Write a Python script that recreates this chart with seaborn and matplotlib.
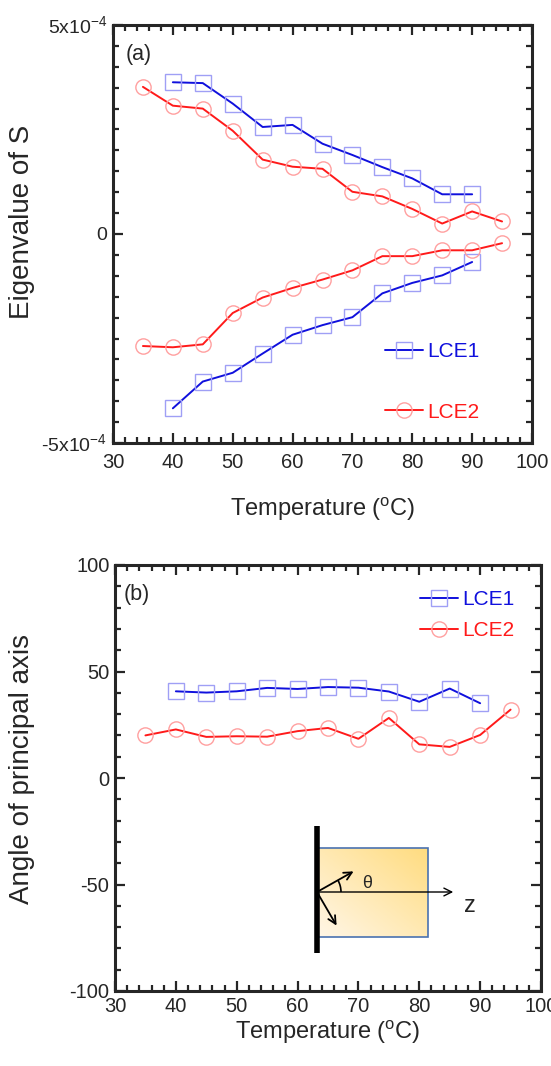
import numpy as np
import pandas as pd
import matplotlib
matplotlib.use("Agg")
import matplotlib.pyplot as plt
from matplotlib.ticker import MultipleLocator, FixedLocator, FixedFormatter
from matplotlib.lines import Line2D
from matplotlib.patches import Rectangle, Arc
import seaborn as sns

# temperatures (deg C)
temp_lce1 = [40, 45, 50, 55, 60, 65, 70, 75, 80, 85, 90]
temp_lce2 = [35, 40, 45, 50, 55, 60, 65, 70, 75, 80, 85, 90, 95]

# (a) eigenvalues of S, two branches per sample
eig_lce1_pos = [3.63e-4, 3.61e-4, 3.12e-4, 2.56e-4, 2.61e-4, 2.16e-4, 1.89e-4, 1.60e-4, 1.33e-4, 0.95e-4, 0.95e-4]
eig_lce1_neg = [-4.17e-4, -3.53e-4, -3.32e-4, -2.86e-4, -2.41e-4, -2.18e-4, -1.99e-4, -1.42e-4, -1.17e-4, -0.99e-4, -0.67e-4]
eig_lce2_pos = [3.52e-4, 3.07e-4, 3.00e-4, 2.47e-4, 1.78e-4, 1.61e-4, 1.56e-4, 1.01e-4, 0.90e-4, 0.60e-4, 0.25e-4, 0.54e-4, 0.30e-4]
eig_lce2_neg = [-2.68e-4, -2.71e-4, -2.64e-4, -1.89e-4, -1.52e-4, -1.29e-4, -1.09e-4, -0.87e-4, -0.53e-4, -0.53e-4, -0.39e-4, -0.39e-4, -0.22e-4]

# (b) angle of principal axis (deg)
angle_lce1 = [40.7, 40.1, 40.7, 42.3, 41.8, 42.7, 42.4, 40.6, 35.8, 42.0, 35.1]
angle_lce2 = [20.0, 22.8, 19.3, 19.6, 19.4, 22.0, 23.5, 18.4, 28.2, 15.8, 14.6, 20.2, 32.1]

series_names = ["LCE1", "LCE2"]
line_colors = {"LCE1": "#1010dd", "LCE2": "#ff1a1a"}
edge_colors = {"LCE1": "#9f9ff5", "LCE2": "#ff9f9f"}
markers = {"LCE1": "s", "LCE2": "o"}

W, H = 551, 1066
sns.set_style("ticks")
plt.rcParams["font.family"] = ["Liberation Sans", "DejaVu Sans"]
plt.rcParams["mathtext.fontset"] = "custom"
plt.rcParams["mathtext.rm"] = "Liberation Sans"
plt.rcParams["axes.unicode_minus"] = False

fig = plt.figure(figsize=(W / 100, H / 100), dpi=100)


def px_axes(left, top, right, bottom):
    return fig.add_axes([left / W, 1 - bottom / H, (right - left) / W, (bottom - top) / H])


ax_a = px_axes(113, 25, 532, 443)
ax_b = px_axes(115, 565, 541, 991)


def draw(ax, x, y, name):
    sns.lineplot(x=x, y=y, ax=ax, color=line_colors[name], linewidth=1.4,
                 marker=markers[name], markersize=11, markerfacecolor="none",
                 markeredgecolor=edge_colors[name], markeredgewidth=1.0)


draw(ax_a, temp_lce1, eig_lce1_pos, "LCE1")
draw(ax_a, temp_lce1, eig_lce1_neg, "LCE1")
draw(ax_a, temp_lce2, eig_lce2_pos, "LCE2")
draw(ax_a, temp_lce2, eig_lce2_neg, "LCE2")
draw(ax_b, temp_lce1, angle_lce1, "LCE1")
draw(ax_b, temp_lce2, angle_lce2, "LCE2")


def style_axes(ax, xlabel_pad):
    ax.set_xlim(30, 100)
    ax.xaxis.set_major_locator(MultipleLocator(10))
    ax.xaxis.set_minor_locator(MultipleLocator(2))
    ax.tick_params(which="both", direction="in", top=True, right=True, width=1.6, labelsize=14.5)
    ax.tick_params(which="major", length=7, pad=4)
    ax.tick_params(which="minor", length=4)
    for sp in ax.spines.values():
        sp.set_linewidth(2.2)
        sp.set_visible(True)
    ax.set_xlabel("Temperature ($^{\\mathregular{o}}$C)", fontsize=17, labelpad=xlabel_pad)


style_axes(ax_a, 17)
ax_a.tick_params(axis="x", which="major", pad=7)
ax_a.set_ylim(-5e-4, 5e-4)
ax_a.yaxis.set_major_locator(FixedLocator([-5e-4, 0, 5e-4]))
ax_a.yaxis.set_major_formatter(FixedFormatter(["-5x10$^{\\mathregular{-4}}$", "0", "5x10$^{\\mathregular{-4}}$"]))
ax_a.yaxis.set_minor_locator(MultipleLocator(0.5e-4))
ax_a.tick_params(axis="y", labelsize=14)
ax_a.set_ylabel("Eigenvalue of S", fontsize=20)
ax_a.yaxis.set_label_coords((35 - 113) / 419, 0.53)
ax_a.text(0.03, 0.955, "(a)", transform=ax_a.transAxes, fontsize=15.5, va="top", ha="left")

style_axes(ax_b, 2)
ax_b.set_ylim(-100, 100)
ax_b.yaxis.set_major_locator(MultipleLocator(50))
ax_b.yaxis.set_minor_locator(MultipleLocator(10))
ax_b.set_ylabel("Angle of principal axis", fontsize=20)
ax_b.yaxis.set_label_coords((35 - 115) / 426, 0.52)
ax_b.text(0.02, 0.955, "(b)", transform=ax_b.transAxes, fontsize=15.5, va="top", ha="left")


def legend_handles():
    return [Line2D([], [], color=line_colors[n], linewidth=1.4, marker=markers[n], markersize=11,
                   markerfacecolor="none", markeredgecolor=edge_colors[n], markeredgewidth=1.0)
            for n in series_names]


leg_a = ax_a.legend(legend_handles(), series_names, loc="upper left",
                    bbox_to_anchor=((385 - 113) / 419, (443 - 342) / 418), frameon=False,
                    fontsize=15, handlelength=1.8, handletextpad=0.25, labelspacing=2.0,
                    borderpad=0, borderaxespad=0)
leg_b = ax_b.legend(legend_handles(), series_names, loc="upper left",
                    bbox_to_anchor=((420 - 115) / 426, (991 - 590) / 426), frameon=False,
                    fontsize=15, handlelength=1.8, handletextpad=0.25, labelspacing=0.6,
                    borderpad=0, borderaxespad=0)
for leg in (leg_a, leg_b):
    for txt, n in zip(leg.get_texts(), series_names):
        txt.set_color(line_colors[n])

# inset schematic, drawn in figure pixel units
ins = px_axes(300, 815, 490, 965)
ins.set_xlim(300, 490)
ins.set_ylim(965, 815)
ins.axis("off")
grad = np.linspace(0, 1, 64)
gx, gy = np.meshgrid(grad, grad)
shade = (gx + (1 - gy)) / 2
cmap = matplotlib.colors.LinearSegmentedColormap.from_list("box", ["#fff6e6", "#ffdc80"])
ins.imshow(shade, extent=(318, 428, 937, 848), cmap=cmap, aspect="auto", zorder=1)
ins.add_patch(Rectangle((318, 848), 110, 89, fill=False, edgecolor="#4a72b0", linewidth=1.2, zorder=2))
ins.plot([317, 317], [826, 953], color="black", linewidth=4, solid_capstyle="butt", zorder=4)
arrow = dict(arrowstyle="->", color="black", linewidth=1.3, mutation_scale=14)
ins.annotate("", xy=(456, 892), xytext=(317, 892), arrowprops=dict(arrowstyle="->", color="black", linewidth=1.0, mutation_scale=14), zorder=5)
ins.annotate("", xy=(356, 870), xytext=(317, 892), arrowprops=arrow, zorder=5)
ins.annotate("", xy=(338, 928), xytext=(317, 892), arrowprops=arrow, zorder=5)
ins.add_patch(Arc((317, 892), 48, 48, theta1=-30, theta2=0, color="black", linewidth=1.2, zorder=5))
ins.text(362, 884, "θ", fontsize=13, ha="left", va="center", zorder=6)
ins.text(464, 906, "z", fontsize=17, ha="left", va="center", zorder=6)

fig.savefig("out.png", dpi=100)
